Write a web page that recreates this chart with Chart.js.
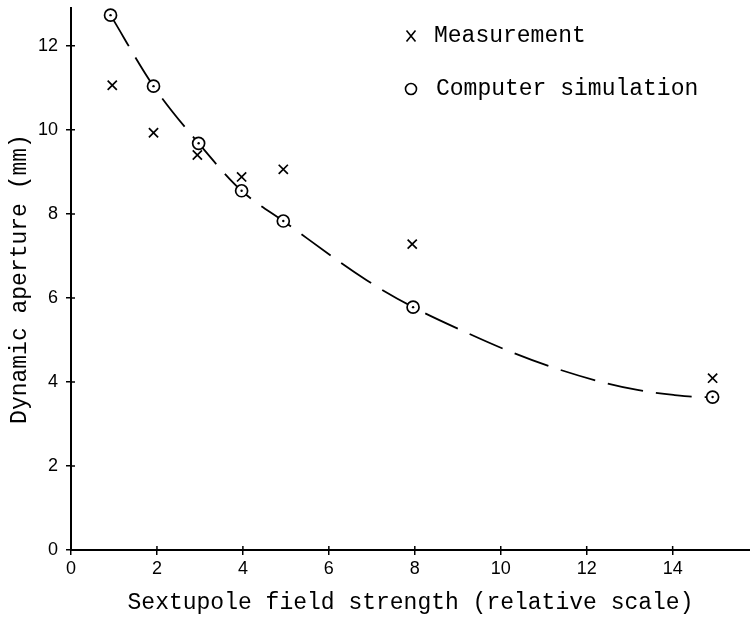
<!DOCTYPE html>
<html>
<head>
<meta charset="utf-8">
<script src="https://cdn.jsdelivr.net/npm/chart.js@4"></script>
<style>
  html, body { margin: 0; padding: 0; background: #fff; }
  #wrap { width: 750px; height: 618px; }
</style>
</head>
<body>
<div id="wrap"><canvas id="chart" width="750" height="618"></canvas></div>
<script>
// values
const measX = [0.96, 1.92, 2.94, 3.97, 4.94, 7.94, 14.93];
const measY = [11.06, 9.93, 9.40, 8.88, 9.06, 7.28, 4.09];

const simX = [0.92, 1.92, 2.97, 3.97, 4.94, 7.96, 14.93];
const simY = [12.73, 11.04, 9.68, 8.55, 7.83, 5.78, 3.64];

// dashed guide curve
const curveX = [0.92, 1.92, 2.97, 3.97, 4.94, 6.88, 7.96, 9.17, 10.13, 11.2, 12.27, 13.18, 14.02, 14.70, 14.93];
const curveY = [12.73, 11.04, 9.68, 8.55, 7.83, 6.42, 5.78, 5.19, 4.76, 4.35, 4.02, 3.81, 3.69, 3.64, 3.64];

const legendItems = ['Measurement', 'Computer simulation'];
const xTitle = 'Sextupole field strength (relative scale)';
const yTitle = 'Dynamic aperture (mm)';

const pts = (xs, ys) => xs.map((x, i) => ({ x, y: ys[i] }));
const monoFont = '"Liberation Mono", "DejaVu Sans Mono", monospace';
const tickFont = { family: '"Liberation Sans", Arial, sans-serif', size: 18 };

// hand-drawn style legend in the upper right
const legendPlugin = {
  id: 'paperLegend',
  afterDraw(chart) {
    const ctx = chart.ctx;
    ctx.save();
    ctx.fillStyle = '#000';
    ctx.strokeStyle = '#000';
    ctx.lineWidth = 1.6;
    ctx.font = '23px ' + monoFont;
    ctx.textBaseline = 'alphabetic';
    // x marker
    const mx = 411, my1 = 36, my2 = 89;
    ctx.beginPath();
    ctx.moveTo(mx - 4.5, my1 - 5.5); ctx.lineTo(mx + 4.5, my1 + 5.5);
    ctx.moveTo(mx + 4.5, my1 - 5.5); ctx.lineTo(mx - 4.5, my1 + 5.5);
    ctx.stroke();
    ctx.fillText(legendItems[0], 434, 42);
    // o marker
    ctx.beginPath();
    ctx.arc(mx, my2, 5.5, 0, Math.PI * 2);
    ctx.stroke();
    ctx.fillText(legendItems[1], 436, 95);
    ctx.restore();
  }
};

// ticks in the original cross the axis line, draw the inner half too
const innerTicks = {
  id: 'innerTicks',
  afterDatasetsDraw(chart) {
    const { ctx, chartArea, scales: { x, y } } = chart;
    ctx.save();
    ctx.strokeStyle = '#000';
    ctx.lineWidth = 1.5;
    ctx.beginPath();
    x.ticks.forEach(t => {
      if (t.value === 0) return;
      const px = x.getPixelForValue(t.value);
      ctx.moveTo(px, chartArea.bottom); ctx.lineTo(px, chartArea.bottom - 4);
    });
    y.ticks.forEach(t => {
      if (t.value === 0) return;
      const py = y.getPixelForValue(t.value);
      ctx.moveTo(chartArea.left, py); ctx.lineTo(chartArea.left + 4, py);
    });
    ctx.stroke();
    ctx.restore();
  }
};

new Chart(document.getElementById('chart'), {
  type: 'scatter',
  data: {
    datasets: [
      { label: 'sim dot', data: pts(simX, simY), pointStyle: 'circle', pointRadius: 1.2,
        backgroundColor: '#000', borderColor: '#000', borderWidth: 0 },
      { label: legendItems[1], data: pts(simX, simY), pointStyle: 'circle', pointRadius: 6,
        backgroundColor: '#fff', borderColor: '#000', borderWidth: 1.7 },
      { label: legendItems[0], data: pts(measX, measY), pointStyle: 'crossRot', pointRadius: 6.5,
        borderColor: '#000', borderWidth: 1.7 },
      { label: 'curve', data: pts(curveX, curveY), showLine: true, pointRadius: 0,
        borderColor: '#000', borderWidth: 1.8, borderDash: [36, 13],
        cubicInterpolationMode: 'monotone', fill: false }
    ]
  },
  options: {
    responsive: false,
    animation: false,
    layout: { autoPadding: false, padding: { top: 8, right: 0, left: 0, bottom: 0 } },
    plugins: { legend: { display: false }, tooltip: { enabled: false } },
    scales: {
      x: {
        type: 'linear', min: 0, max: 15.8,
        afterFit: s => { s.height = 68; s.paddingLeft = 0; s.paddingRight = 0; },
        ticks: { stepSize: 2, includeBounds: false, color: '#000', font: tickFont, padding: 3, maxRotation: 0 },
        grid: { drawOnChartArea: false, tickLength: 5, color: '#000', lineWidth: 1.5 },
        border: { color: '#000', width: 2 },
        title: { display: true, text: xTitle, color: '#000', font: { family: monoFont, size: 23 }, padding: { top: 0, bottom: 1 } }
      },
      y: {
        type: 'linear', min: 0, max: 12.9,
        afterFit: s => { s.width = 71; s.paddingTop = 0; s.paddingBottom = 0; },
        ticks: { stepSize: 2, includeBounds: false, color: '#000', font: tickFont, padding: 8 },
        grid: { drawOnChartArea: false, tickLength: 5, color: '#000', lineWidth: 1.5 },
        border: { color: '#000', width: 2 },
        title: { display: true, text: yTitle, color: '#000', font: { family: monoFont, size: 23 }, padding: { top: 6, bottom: 0 } }
      }
    }
  },
  plugins: [legendPlugin, innerTicks]
});
</script>
</body>
</html>
